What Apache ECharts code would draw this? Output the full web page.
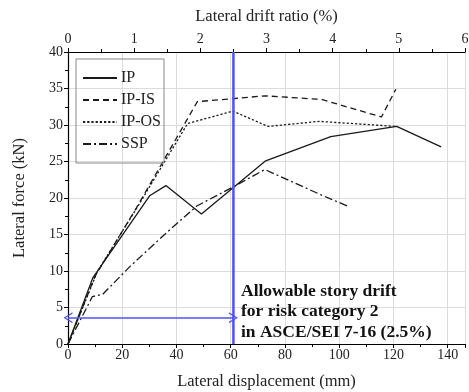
<!DOCTYPE html>
<html><head><meta charset="utf-8">
<script src="https://cdn.jsdelivr.net/npm/echarts@6/dist/echarts.min.js"></script>
<style>html,body{margin:0;padding:0;background:#fff}#c{width:469px;height:392px}</style>
</head><body><div id="c"></div>
<script>
// Data (displacement mm, force kN)
const ipDisp   = [0, 9.2, 30.1, 36.1, 49.2, 72.9, 96.9, 121.2, 137.6];
const ipForce  = [0, 9.1, 20.3, 21.7, 17.8, 25.1, 28.4, 29.8, 27.0];
const isDisp   = [0, 10, 25, 47.7, 60.8, 72.6, 93.5, 115.6, 120.9];
const isForce  = [0, 9.3, 18.5, 33.2, 33.6, 34.0, 33.5, 31.1, 34.9];
const osDisp   = [0, 10.8, 25, 44.1, 60.8, 73.8, 92.6, 121.2];
const osForce  = [0, 9.9, 18.4, 30.2, 31.9, 29.8, 30.5, 29.8];
const sspDisp  = [0, 9.0, 12.8, 22.8, 36.5, 47.5, 60.8, 72.6, 93.5, 103.7];
const sspForce = [0, 6.5, 6.8, 10.6, 15.3, 18.9, 21.5, 23.9, 20.4, 18.8];
const seriesNames = ['IP', 'IP-IS', 'IP-OS', 'SSP'];
const driftMaxPct = 6;
const dispMax = 146.4;       // mm at 6 % drift
const allowDisp = 61;        // mm, 2.5 % drift
const arrowForce = 3.6;      // kN, level of the double arrow
const forceMin = 0, forceMax = 40;

const zip = (a, b) => a.map((v, i) => [v, b[i]]);
const FONT = 'Liberation Serif';
const chart = echarts.init(document.getElementById('c'), null, {renderer: 'canvas'});
const lineCol = '#1a1a1a';
const chevron = 'path://M5,0 L10,8 L8.7,8 L5,2 L1.3,8 L0,8 Z';
const blue = '#5050ff';

chart.setOption({
  animation: false,
  textStyle: {fontFamily: FONT, color: '#222'},
  grid: {left: 68, right: 4, top: 52, bottom: 48, outerBoundsMode: 'none', containLabel: false},
  legend: {
    data: seriesNames, orient: 'vertical', left: 76, top: 59,
    itemWidth: 34, itemHeight: 14, itemGap: 6, padding: [11, 3, 11, 6],
    borderColor: '#888', borderWidth: 1, itemStyle: {opacity: 0},
    textStyle: {fontFamily: FONT, fontSize: 16, color: '#222', padding: [0,0,0,-1]}
  },
  xAxis: [{
    type: 'value', position: 'bottom', min: 0, max: dispMax, interval: 20,
    name: 'Lateral displacement (mm)', nameLocation: 'middle', nameGap: 29,
    nameTextStyle: {fontFamily: FONT, fontSize: 16.5, color: '#222'},
    axisLine: {lineStyle: {color: '#000', width: 1.2}},
    axisTick: {length: 4, lineStyle: {color: '#000'}},
    minorTick: {show: true, splitNumber: 2, length: 3, lineStyle: {color: '#000'}},
    axisLabel: {fontFamily: FONT, fontSize: 14, color: '#222', margin: 4, showMaxLabel: false},
    splitLine: {show: true, lineStyle: {color: '#dcdcdc', width: 1}}
  }, {
    type: 'value', position: 'top', min: 0, max: driftMaxPct, interval: 1,
    name: 'Lateral drift ratio (%)', nameLocation: 'middle', nameGap: 27,
    nameTextStyle: {fontFamily: FONT, fontSize: 16.5, color: '#222'},
    axisLine: {lineStyle: {color: '#000', width: 1.2}},
    axisTick: {length: 4, lineStyle: {color: '#000'}},
    minorTick: {show: true, splitNumber: 2, length: 3, lineStyle: {color: '#000'}},
    axisLabel: {fontFamily: FONT, fontSize: 14, color: '#222', margin: 6},
    splitLine: {show: false}
  }],
  yAxis: {
    type: 'value', min: forceMin, max: forceMax, interval: 5,
    name: 'Lateral force (kN)', nameLocation: 'middle', nameGap: 40,
    nameTextStyle: {fontFamily: FONT, fontSize: 16.5, color: '#222'},
    axisLine: {show: true, lineStyle: {color: '#000', width: 1.2}},
    axisTick: {show: true, length: 4, lineStyle: {color: '#000'}},
    minorTick: {show: true, splitNumber: 2, length: 3, lineStyle: {color: '#000'}},
    axisLabel: {fontFamily: FONT, fontSize: 14, color: '#222', margin: 5},
    splitLine: {show: true, lineStyle: {color: '#dcdcdc', width: 1}}
  },
  series: [
    {name: 'IP', type: 'line', symbol: 'none', data: zip(ipDisp, ipForce),
     lineStyle: {color: lineCol, width: 1.3, type: 'solid'}, itemStyle: {color: lineCol}},
    {name: 'IP-IS', type: 'line', symbol: 'none', data: zip(isDisp, isForce),
     lineStyle: {color: lineCol, width: 1.3, type: [6, 4]}, itemStyle: {color: lineCol}},
    {name: 'IP-OS', type: 'line', symbol: 'none', data: zip(osDisp, osForce),
     lineStyle: {color: lineCol, width: 1.3, type: [2.2, 2]}, itemStyle: {color: lineCol}},
    {name: 'SSP', type: 'line', symbol: 'none', data: zip(sspDisp, sspForce),
     lineStyle: {color: lineCol, width: 1.3, type: [8, 3, 2, 3]}, itemStyle: {color: lineCol}},
    {name: 'limit', type: 'line', symbol: 'none', silent: true,
     data: [[allowDisp, forceMin], [allowDisp, forceMax]],
     lineStyle: {color: blue, width: 2.5}, z: 5,
     markLine: {
       silent: true, symbol: [chevron, chevron], symbolSize: [11, 9],
       label: {show: false}, lineStyle: {color: blue, width: 1.6, type: 'solid'},
       data: [[{coord: [0, arrowForce]}, {coord: [allowDisp, arrowForce]}]]
     }}
  ],
  graphic: [{
    type: 'text', left: 241, top: 281, z: 10,
    style: {
      text: 'Allowable story drift\nfor risk category 2\nin ASCE/SEI 7-16 (2.5%)',
      font: 'bold 17.5px "Liberation Serif"', fill: '#111', lineHeight: 20.5
    }
  }]
});
</script></body></html>
